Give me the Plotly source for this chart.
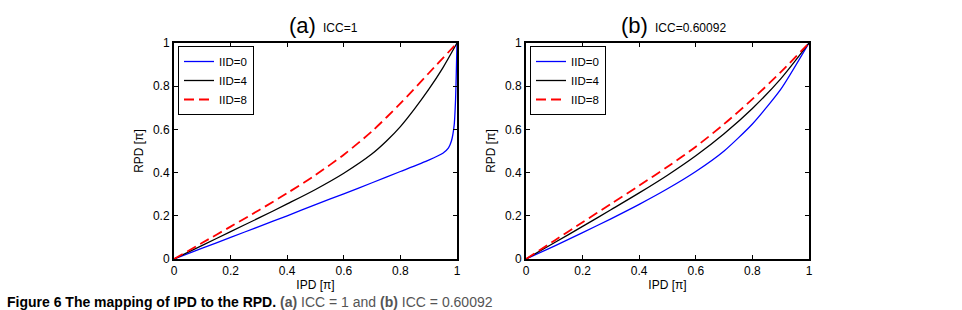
import plotly.graph_objects as go

# ---------------- data ----------------
ipd_a_blue = [0, 0.1, 0.2, 0.3, 0.4, 0.5, 0.6, 0.7, 0.8, 0.9, 0.95, 0.97, 0.98, 0.99, 0.995, 1.0]
rpd_a_blue = [0, 0.05, 0.10, 0.15, 0.20, 0.252, 0.302, 0.353, 0.405, 0.458, 0.49, 0.515, 0.545, 0.62, 0.74, 1.0]
ipd_a_black = [0, 0.1, 0.2, 0.3, 0.4, 0.5, 0.6, 0.7, 0.75, 0.8, 0.85, 0.9, 0.95, 1.0]
rpd_a_black = [0, 0.063, 0.127, 0.19, 0.255, 0.322, 0.397, 0.487, 0.545, 0.613, 0.695, 0.785, 0.885, 1.0]
ipd_a_red = [0, 0.1, 0.2, 0.3, 0.4, 0.5, 0.6, 0.7, 0.8, 0.9, 1.0]
rpd_a_red = [0, 0.075, 0.15, 0.226, 0.305, 0.389, 0.483, 0.592, 0.72, 0.86, 1.0]

ipd_b_blue = [0, 0.1, 0.2, 0.3, 0.4, 0.5, 0.6, 0.7, 0.8, 0.9, 1.0]
rpd_b_blue = [0, 0.06, 0.122, 0.186, 0.253, 0.325, 0.405, 0.50, 0.625, 0.785, 1.0]
ipd_b_black = [0, 0.1, 0.2, 0.3, 0.4, 0.5, 0.6, 0.7, 0.8, 0.9, 1.0]
rpd_b_black = [0, 0.075, 0.151, 0.228, 0.306, 0.388, 0.478, 0.58, 0.697, 0.834, 1.0]
ipd_b_red = [0, 0.1, 0.2, 0.3, 0.4, 0.5, 0.6, 0.7, 0.8, 0.9, 1.0]
rpd_b_red = [0, 0.085, 0.17, 0.255, 0.34, 0.427, 0.52, 0.625, 0.74, 0.865, 1.0]

series_names = ["IID=0", "IID=4", "IID=8"]
tick_vals = [0, 0.2, 0.4, 0.6, 0.8, 1]
tick_text = ["0", "0.2", "0.4", "0.6", "0.8", "1"]

W, H = 962, 310
FONT = "Liberation Sans, Arial, Helvetica, sans-serif"

fig = go.Figure()

styles = [dict(color="#0000FF", width=1.3, shape="spline", smoothing=0.6),
          dict(color="#000000", width=1.3, shape="spline", smoothing=0.8),
          dict(color="#FF0000", width=1.8, dash="10px,5px", shape="spline", smoothing=0.8)]

panel_a = [(ipd_a_blue, rpd_a_blue), (ipd_a_black, rpd_a_black), (ipd_a_red, rpd_a_red)]
panel_b = [(ipd_b_blue, rpd_b_blue), (ipd_b_black, rpd_b_black), (ipd_b_red, rpd_b_red)]

for (x, y), name, st in zip(panel_a, series_names, styles):
    fig.add_trace(go.Scatter(x=x, y=y, mode="lines", name=name, line=st,
                             xaxis="x", yaxis="y", legend="legend"))
for (x, y), name, st in zip(panel_b, series_names, styles):
    fig.add_trace(go.Scatter(x=x, y=y, mode="lines", name=name, line=st,
                             xaxis="x2", yaxis="y2", legend="legend2"))

def px_x(p):
    return p / W

def px_y(p):
    return (H - p) / H

ydom = [px_y(259), px_y(43)]
axis_common = dict(range=[0, 1], tickvals=tick_vals, ticktext=tick_text,
                   showline=True, linecolor="black", linewidth=2, mirror="ticks",
                   ticks="inside", ticklen=4, tickwidth=1, tickcolor="black",
                   showgrid=False, zeroline=False, automargin=False,
                   tickfont=dict(family=FONT, size=12, color="black"))

legend_common = dict(xanchor="left", yanchor="top",
                     bordercolor="black", borderwidth=1, bgcolor="white",
                     font=dict(family=FONT, size=11.5), itemwidth=30, tracegroupgap=0)

fig.update_layout(
    template="none",
    width=W, height=H,
    margin=dict(l=0, r=0, t=0, b=0, pad=0),
    paper_bgcolor="white", plot_bgcolor="white",
    font=dict(family=FONT, color="black"),
    xaxis=dict(domain=[px_x(174), px_x(457)], anchor="y",
               title=dict(text="IPD [π]", font=dict(size=12), standoff=3), **axis_common),
    yaxis=dict(domain=ydom, anchor="x",
               title=dict(text="RPD [π]", font=dict(size=12), standoff=7), **axis_common),
    xaxis2=dict(domain=[px_x(526), px_x(809)], anchor="y2",
                title=dict(text="IPD [π]", font=dict(size=12), standoff=3), **axis_common),
    yaxis2=dict(domain=ydom, anchor="x2",
                title=dict(text="RPD [π]", font=dict(size=12), standoff=7), **axis_common),
    legend=dict(x=px_x(178), y=px_y(46), **legend_common),
    legend2=dict(x=px_x(530), y=px_y(46), **legend_common),
    showlegend=True,
)

# panel titles: large letter + small ICC text
titles = [("(a)", "ICC=1", 287, 321), ("(b)", "ICC=0.60092", 619, 653)]
for big, small, xb, xs in titles:
    fig.add_annotation(text=big, x=px_x(xb), y=px_y(25), xref="paper", yref="paper",
                       xanchor="left", yanchor="middle", showarrow=False,
                       font=dict(family=FONT, size=22, color="black"))
    fig.add_annotation(text=small, x=px_x(xs), y=px_y(28), xref="paper", yref="paper",
                       xanchor="left", yanchor="middle", showarrow=False,
                       font=dict(family=FONT, size=12, color="black"))

fig.add_annotation(
    text="<b>Figure 6 The mapping of IPD to the RPD.</b> <span style='color:#555555'><b>(a)</b> ICC = 1 and <b>(b)</b> ICC = 0.60092</span>",
    x=px_x(5), y=px_y(302), xref="paper", yref="paper", xanchor="left", yanchor="middle",
    showarrow=False, font=dict(family=FONT, size=14, color="black"))

fig.write_html("out.html")
